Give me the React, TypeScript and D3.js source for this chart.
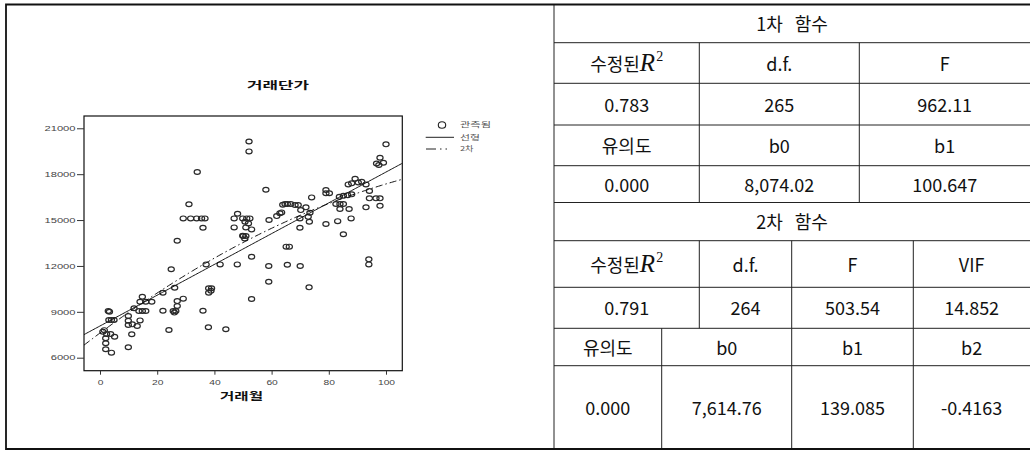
import React, { useRef, useEffect } from 'react';
import * as d3 from 'd3';

// page
const width = 1030;
const height = 451;

// scatter: 거래월 (x) and 거래단가 (y)
const months = [
  1.0, 2.3, 3.7, 5.1, 2.0, 2.0, 2.0, 4.0, 2.9, 3.3, 3.1, 4.0, 4.9, 1.5,
  9.9, 9.9, 9.9, 11.3, 13.0, 11.1, 9.9, 11.9, 14.0, 13.6, 14.8, 16.0, 14.8, 14.0, 16.0, 18.1,
  22.0, 22.0, 24.1, 24.9, 26.1, 27.0, 29.1, 27.0, 25.6, 26.5, 26.0, 27.0, 29.1, 31.1, 31.7,
  33.8, 35.5, 36.7, 36.0, 34.0, 36.0,
  38.0, 39.0, 38.0, 38.8, 37.9, 44.0, 37.1, 42.0, 48.0, 49.9, 46.9, 46.9, 48.1, 49.9, 51.3,
  52.4, 50.7, 51.9, 51.0, 53.0, 50.1, 51.0, 50.6, 52.1, 52.1, 53.0, 53.0,
  58.0, 59.1, 61.8, 62.9, 63.5, 63.9, 64.7, 65.5, 66.7, 68.2, 69.3, 59.0, 59.0, 65.1, 66.2,
  65.5, 70.2, 72.0, 73.4, 69.9, 72.8, 73.2, 69.9, 74.0, 70.0, 73.1,
  79.0, 79.0, 80.2, 83.7, 85.1, 86.6, 88.0, 82.5, 83.9, 85.1, 83.9, 87.1, 83.1, 79.0, 87.8,
  85.1, 86.8, 88.0, 89.2, 90.3, 91.5, 93.0, 94.2, 94.2, 96.5, 97.9, 93.0, 97.9, 94.0, 94.0,
  96.7, 97.5, 99.1, 97.9, 100.0,
];
const prices = [
  7700, 7550, 7550, 7370, 7270, 6940, 6550, 6330, 9050, 9000, 8460, 8460, 8460, 7800,
  8730, 8420, 8140, 8180, 8070, 7530, 6680, 9230, 8440, 9050, 9050, 9050, 9990, 9660, 9660, 9660,
  9070, 10250, 7810, 11780, 10575, 9700, 9860, 9380, 9050, 9050, 8950, 13650, 15110, 16030, 15110,
  15110, 15110, 15110, 14500, 18140, 9070,
  10540, 10540, 10250, 10380, 7990, 7860, 12100, 12100, 12100, 13970, 15110, 14520, 15410, 15110, 15110,
  15110, 14890, 14780, 14520, 14390, 13950, 13950, 13800, 20140, 19490, 12600, 9840,
  16980, 15000, 15260, 15440, 15500, 16000, 16050, 16050, 16050, 15980, 15980, 12000, 10970, 13260, 13260,
  12080, 15650, 15830, 15480, 15110, 15210, 14890, 14500, 16480, 12000, 10600,
  16960, 16750, 16750, 16520, 16590, 16630, 16680, 16050, 16050, 16050, 15720, 15720, 14930, 14740, 15110,
  14070, 17330, 17400, 17700, 17460, 17500, 17330, 16900, 16420, 16420, 16420, 15830, 15930, 12430, 12100,
  18700, 18600, 18750, 19070, 19950,
];

const xTicks = [0, 20, 40, 60, 80, 100];
const yTicks = [6000, 9000, 12000, 15000, 18000, 21000];

const chartTitle = '거래단가';
const xLabel = '거래월';
const legendLabels = ['관측됨', '선형', '2차'];

// tables
const linTitle = '1차 함수';
const linStatHeads = ['수정된R2', 'd.f.', 'F'];
const linStatVals = ['0.783', '265', '962.11'];
const linCoefHeads = ['유의도', 'b0', 'b1'];
const linCoefVals = ['0.000', '8,074.02', '100.647'];
const quadTitle = '2차 함수';
const quadStatHeads = ['수정된R2', 'd.f.', 'F', 'VIF'];
const quadStatVals = ['0.791', '264', '503.54', '14.852'];
const quadCoefHeads = ['유의도', 'b0', 'b1', 'b2'];
const quadCoefVals = ['0.000', '7,614.76', '139.085', '-0.4163'];

// layout
const plot = { left: 84, right: 402.3, top: 116, bottom: 370.7 };
const xDomain = [-5.6, 105.7];
const yDomain = [5150, 21804];
const tableLeft = 554;
const tableRight = 1030;
const rowEdges = [4.5, 42.7, 83.3, 125, 165.7, 202.5, 240.7, 287.3, 328.3, 365.7, 449];
const cols3 = [tableLeft, 699.3, 859.3, tableRight];
const cols4a = [tableLeft, 699.3, 791.7, 913.3, tableRight];
const cols4b = [tableLeft, 661.7, 791.7, 913.3, tableRight];

const fontKR = "'Noto Sans CJK KR', 'Noto Sans', sans-serif";
const fontMath = "'Liberation Serif', 'DejaVu Serif', serif";
const fontAxis = "'Liberation Sans', Arial, sans-serif";

const num = (s: string) => +s.replace(/,/g, '');

// scales
const xScale = d3.scaleLinear().domain(xDomain).range([plot.left, plot.right]);
const yScale = d3.scaleLinear().domain(yDomain).range([plot.bottom, plot.top]);

// fitted curves from the table coefficients
const linFit = (x: number) => num(linCoefVals[1]) + num(linCoefVals[2]) * x;
const quadFit = (x: number) =>
  num(quadCoefVals[1]) + num(quadCoefVals[2]) * x + num(quadCoefVals[3]) * x * x;
const xs = d3.range(xDomain[0], xDomain[1], 0.5).concat([xDomain[1]]);
const linPath = d3.line<number>().x(d => xScale(d)).y(d => yScale(linFit(d)));
const quadPath = d3.line<number>().x(d => xScale(d)).y(d => yScale(quadFit(d)));

const Cell = ({ text, x0, x1, y0, y1, gap = 0 }: any) => {
  const cx = (x0 + x1) / 2;
  const base = (y0 + y1) / 2 + 7.5;
  if (text === '수정된R2') {
    return (
      <text x={cx} y={base} textAnchor="middle" fontSize={18} fontFamily={fontKR} fill="#111">
        <tspan>수정된</tspan>
        <tspan fontFamily={fontMath} fontStyle="italic" fontSize={25}>R</tspan>
        <tspan fontFamily={fontMath} fontSize={14} dy={-9.5} dx={1}>2</tspan>
      </text>
    );
  }
  return (
    <text x={cx} y={base} textAnchor="middle" fontSize={18} fontFamily={fontKR} fill="#111"
      style={{ wordSpacing: gap }}>
      {text}
    </text>
  );
};

const Row = ({ cells, cols, r }: any) => (
  <g>
    {cells.map((t: string, i: number) => (
      <Cell key={i} text={t} x0={cols[i]} x1={cols[i + 1]} y0={rowEdges[r]} y1={rowEdges[r + 1]} />
    ))}
  </g>
);

const App = () => {
  const xAxisRef = useRef<SVGGElement>(null);
  const yAxisRef = useRef<SVGGElement>(null);

  useEffect(() => {
    const styleText = (g: any, perChar: number) =>
      g.selectAll('text')
        .attr('fill', '#444')
        .attr('font-size', 7)
        .attr('font-family', fontAxis)
        .attr('textLength', (d: number) => String(d).length * perChar)
        .attr('lengthAdjust', 'spacingAndGlyphs');

    const yAxis = d3.axisLeft(yScale).tickValues(yTicks).tickSize(7).tickPadding(1.5)
      .tickFormat(d3.format('d'));
    d3.select(yAxisRef.current).call(yAxis as any)
      .call(g => g.select('.domain').remove())
      .call(g => g.selectAll('line').attr('stroke', '#333'))
      .call(g => styleText(g, 6.2));

    const xAxis = d3.axisBottom(xScale).tickValues(xTicks).tickSize(4).tickPadding(5)
      .tickFormat(d3.format('d'));
    d3.select(xAxisRef.current).call(xAxis as any)
      .call(g => g.select('.domain').remove())
      .call(g => g.selectAll('line').attr('stroke', '#333'))
      .call(g => styleText(g, 5.7));
  }, []);

  return (
    <svg width={width} height={height} style={{ position: 'absolute', left: 0, top: 0, background: '#fff' }}>
      {/* left cell: the chart */}
      <text x={278} y={89} textAnchor="middle" fontSize={10.5} fontWeight="bold" fontFamily={fontKR}
        textLength={62} lengthAdjust="spacingAndGlyphs" fill="#111">{chartTitle}</text>

      <rect x={plot.left} y={plot.top} width={plot.right - plot.left} height={plot.bottom - plot.top}
        fill="none" stroke="#111" strokeWidth={1.2} />
      <g ref={yAxisRef} transform={`translate(${plot.left},0)`} />
      <g ref={xAxisRef} transform={`translate(0,${plot.bottom})`} />

      <g fill="none" stroke="#2a2a2a" strokeWidth={1.2}>
        {months.map((m, i) => (
          <ellipse key={i} cx={xScale(m)} cy={yScale(prices[i])} rx={3.1} ry={2.4} />
        ))}
      </g>

      <path d={linPath(xs) || ''} fill="none" stroke="#111" strokeWidth={1} />
      <path d={quadPath(xs) || ''} fill="none" stroke="#111" strokeWidth={1} strokeDasharray="7,3,1.5,3" />

      <text x={241.5} y={400} textAnchor="middle" fontSize={10.5} fontWeight="bold" fontFamily={fontKR}
        textLength={43} lengthAdjust="spacingAndGlyphs" fill="#111">{xLabel}</text>

      {/* legend */}
      <g fontFamily={fontKR} fontSize={6.5} fill="#555">
        <ellipse cx={442} cy={125} rx={3.7} ry={3.3} fill="none" stroke="#222" strokeWidth={1.1} />
        <line x1={425.7} x2={454} y1={137.3} y2={137.3} stroke="#222" strokeWidth={1} />
        <line x1={426} x2={447} y1={149} y2={149} stroke="#222" strokeWidth={1} strokeDasharray="10,4,1.5,4" />
        <text x={460} y={127.3} textLength={31} lengthAdjust="spacingAndGlyphs">{legendLabels[0]}</text>
        <text x={460} y={139.6} textLength={20} lengthAdjust="spacingAndGlyphs">{legendLabels[1]}</text>
        <text x={460} y={151.3} textLength={13.5} lengthAdjust="spacingAndGlyphs">{legendLabels[2]}</text>
      </g>

      {/* right cell: statistics table */}
      <Cell text={linTitle} x0={tableLeft} x1={tableRight} y0={rowEdges[0]} y1={rowEdges[1]} gap={8} />
      <Row cells={linStatHeads} cols={cols3} r={1} />
      <Row cells={linStatVals} cols={cols3} r={2} />
      <Row cells={linCoefHeads} cols={cols3} r={3} />
      <Row cells={linCoefVals} cols={cols3} r={4} />
      <Cell text={quadTitle} x0={tableLeft} x1={tableRight} y0={rowEdges[5]} y1={rowEdges[6]} gap={8} />
      <Row cells={quadStatHeads} cols={cols4a} r={6} />
      <Row cells={quadStatVals} cols={cols4a} r={7} />
      <Row cells={quadCoefHeads} cols={cols4b} r={8} />
      <Row cells={quadCoefVals} cols={cols4b} r={9} />

      <g stroke="#222" strokeWidth={1}>
        {rowEdges.slice(1, -1).map((y, i) => (
          <line key={i} x1={tableLeft} x2={tableRight} y1={y} y2={y} />
        ))}
        {cols3.slice(1, -1).map((x, i) => (
          <line key={'a' + i} x1={x} x2={x} y1={rowEdges[1]} y2={rowEdges[5]} />
        ))}
        {cols4a.slice(1, -1).map((x, i) => (
          <line key={'b' + i} x1={x} x2={x} y1={rowEdges[6]} y2={rowEdges[8]} />
        ))}
        {cols4b.slice(1, -1).map((x, i) => (
          <line key={'c' + i} x1={x} x2={x} y1={rowEdges[8]} y2={rowEdges[10]} />
        ))}
        <line x1={tableLeft} x2={tableLeft} y1={rowEdges[0]} y2={rowEdges[10]} />
      </g>
      {/* outer border */}
      <path d={`M${tableRight + 2},${rowEdges[0]}H6V${rowEdges[10]}H${tableRight + 2}`}
        fill="none" stroke="#111" strokeWidth={1.8} />
    </svg>
  );
};

export default App;
